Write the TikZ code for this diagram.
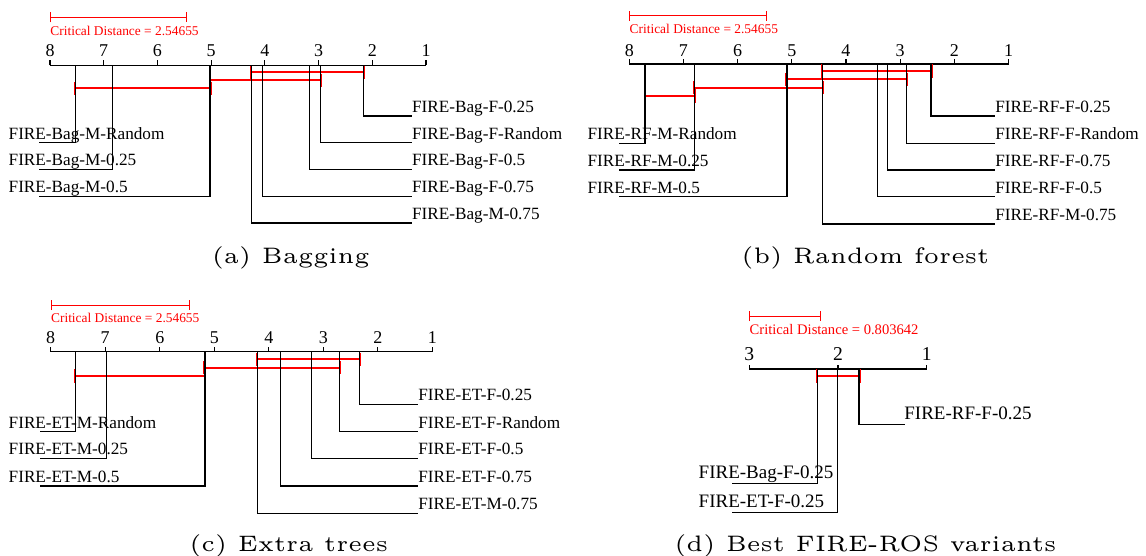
\documentclass[tikz,border=0pt]{standalone}
\usepackage{fontspec}
\usepackage{graphicx}
\usetikzlibrary{arrows.meta}
\newfontfamily\timesfont{Liberation Serif}

\tikzset{
  axisline/.style={line width=0.6pt},
  leg/.style={line width=0.6pt},
  clique/.style={red, line width=0.9pt, |-|, shorten <=-0.75pt, shorten >=-0.75pt},
  cdbar/.style={red, line width=0.5pt, |-|},
  cdtext/.style={red, anchor=base west, inner sep=0pt, font=\timesfont\fontsize{6.7}{8}\selectfont},
  ranknum/.style={anchor=base, inner sep=0pt, font=\timesfont\fontsize{9}{11}\selectfont},
  lbl/.style={anchor=south west, inner sep=0pt, text depth=1.6pt, font=\timesfont\fontsize{8.6}{10}\selectfont},
  subcap/.style={anchor=base, inner sep=0pt},
}
\newcommand{\subcaptext}[1]{\scalebox{2.24}{\fontsize{5}{6}\selectfont #1}}

\begin{document}
\begin{tikzpicture}[x=0.5pt, y=-0.5pt]
\useasboundingbox (0,0) rectangle (1146,556);

% (a) bagging
\begin{scope}[shift={(479.71,0)}, xscale=-53.71]
  \draw[axisline] (8,65.5) -- (1,65.5);
  \foreach \t in {1,...,8} {
    \draw[axisline] (\t,65.5) -- (\t,60.5);
    \node[ranknum] (a-t\t) at (\t,57) {\t};
  }
  \draw[cdbar] (8,17.3) -- (5.45345,17.3);
  \node[cdtext] (a-cd) at (8,35.7) {Critical Distance = 2.54655};
  \draw[clique] (4.256,72.3) -- (2.17,72.3);
  \draw[clique] (5.02,80.3) -- (2.96,80.3);
  \draw[clique] (7.52,88.3) -- (5.02,88.3);
  \foreach \r/\yy/\lab [count=\i] in {2.17/116/FIRE-Bag-F-0.25, 2.96/142.7/FIRE-Bag-F-Random, 3.17/169.5/FIRE-Bag-F-0.5, 4.05/196.3/FIRE-Bag-F-0.75, 4.256/223/FIRE-Bag-M-0.75} {
    \node[lbl] (a-r\i) at (1.266,\yy) {\lab};
    \draw[leg] (\r,65.5) |- (a-r\i.south west);
  }
  \foreach \r/\yy/\lab [count=\i] in {7.52/142.7/FIRE-Bag-M-Random, 6.83/169.5/FIRE-Bag-M-0.25, 5.02/196.3/FIRE-Bag-M-0.5} {
    \node[lbl] (a-l\i) at (8.777,\yy) {\lab};
    \draw[leg] (\r,65.5) |- (a-l\i.south west -| 8.2,0);
  }
\end{scope}

% (b) random forest
\begin{scope}[shift={(1062.67,0)}, xscale=-54.17]
  \draw[axisline] (8,64) -- (1,64);
  \foreach \t in {1,...,8} {
    \draw[axisline] (\t,64) -- (\t,59);
    \node[ranknum] (b-t\t) at (\t,56.7) {\t};
  }
  \draw[cdbar] (8,16) -- (5.45345,16);
  \node[cdtext] (b-cd) at (8,33.3) {Critical Distance = 2.54655};
  \draw[clique] (4.435,71) -- (2.43,71);
  \draw[clique] (5.09,79.3) -- (2.89,79.3);
  \draw[clique] (6.79,87.7) -- (4.435,87.7);
  \draw[clique] (7.71,96) -- (6.79,96);
  \foreach \r/\yy/\lab [count=\i] in {2.43/116/FIRE-RF-F-0.25, 2.89/143.3/FIRE-RF-F-Random, 3.24/170/FIRE-RF-F-0.75, 3.42/196.7/FIRE-RF-F-0.5, 4.435/224/FIRE-RF-M-0.75} {
    \node[lbl] (b-r\i) at (1.249,\yy) {\lab};
    \draw[leg] (\r,64) |- (b-r\i.south west);
  }
  \foreach \r/\yy/\lab [count=\i] in {7.71/143.3/FIRE-RF-M-Random, 6.79/170/FIRE-RF-M-0.25, 5.09/196.7/FIRE-RF-M-0.5} {
    \node[lbl] (b-l\i) at (8.777,\yy) {\lab};
    \draw[leg] (\r,64) |- (b-l\i.south west -| 8.188,0);
  }
\end{scope}

% (c) extra trees
\begin{scope}[shift={(486.81,0)}, xscale=-54.51]
  \draw[axisline] (8,351.7) -- (1,351.7);
  \foreach \t in {1,...,8} {
    \draw[axisline] (\t,351.7) -- (\t,346.7);
    \node[ranknum] (c-t\t) at (\t,343.3) {\t};
  }
  \draw[cdbar] (8,305) -- (5.45345,305);
  \node[cdtext] (c-cd) at (8,322) {Critical Distance = 2.54655};
  \draw[clique] (4.21,359.3) -- (2.34,359.3);
  \draw[clique] (5.17,367.7) -- (2.70,367.7);
  \draw[clique] (7.54,376) -- (5.17,376);
  \foreach \r/\yy/\lab [count=\i] in {2.34/404.3/FIRE-ET-F-0.25, 2.70/431.7/FIRE-ET-F-Random, 3.22/458.3/FIRE-ET-F-0.5, 3.79/486/FIRE-ET-F-0.75, 4.21/513.3/FIRE-ET-M-0.75} {
    \node[lbl] (c-r\i) at (1.262,\yy) {\lab};
    \draw[leg] (\r,351.7) |- (c-r\i.south west);
  }
  \foreach \r/\yy/\lab [count=\i] in {7.54/431.7/FIRE-ET-M-Random, 6.98/458.3/FIRE-ET-M-0.25, 5.17/486/FIRE-ET-M-0.5} {
    \node[lbl] (c-l\i) at (8.778,\yy) {\lab};
    \draw[leg] (\r,351.7) |- (c-l\i.south west -| 8.19,0);
  }
\end{scope}

% (d) best variants
\begin{scope}[shift={(1015.4,0)}, xscale=-88.7,
    lbl/.append style={text depth=2.3pt, font=\timesfont\fontsize{9.5}{11}\selectfont},
    ranknum/.append style={font=\timesfont\fontsize{9.8}{11}\selectfont},
    cdtext/.append style={font=\timesfont\fontsize{7.3}{9}\selectfont}]
  \draw[axisline] (3,369) -- (1,369);
  \foreach \t in {1,...,3} {
    \draw[axisline] (\t,369) -- (\t,365);
    \node[ranknum] (d-t\t) at (\t,360) {\t};
  }
  \draw[cdbar] (3,316) -- (2.196358,316);
  \node[cdtext] (d-cd) at (3,334.3) {Critical Distance = 0.803642};
  \draw[clique] (2.233,376) -- (1.763,376);
  \node[lbl] (d-r1) at (1.256,424.3) {FIRE-RF-F-0.25};
  \draw[leg] (1.763,369) |- (d-r1.south west);
  \foreach \r/\yy/\lab [count=\i] in {2.233/483.3/FIRE-Bag-F-0.25, 2.003/512.7/FIRE-ET-F-0.25} {
    \node[lbl] (d-l\i) at (3.575,\yy) {\lab};
    \draw[leg] (\r,369) |- (d-l\i.south west -| 3.192,0);
  }
\end{scope}

% sub-captions
\node[subcap] (cap-a) at (290.8,263) {\subcaptext{(a) Bagging}};
\node[subcap] (cap-b) at (865.4,263) {\subcaptext{(b) Random forest}};
\node[subcap] (cap-c) at (288.7,551) {\subcaptext{(c) Extra trees}};
\node[subcap] (cap-d) at (865.4,551) {\subcaptext{(d) Best FIRE-ROS variants}};
\end{tikzpicture}
\end{document}
